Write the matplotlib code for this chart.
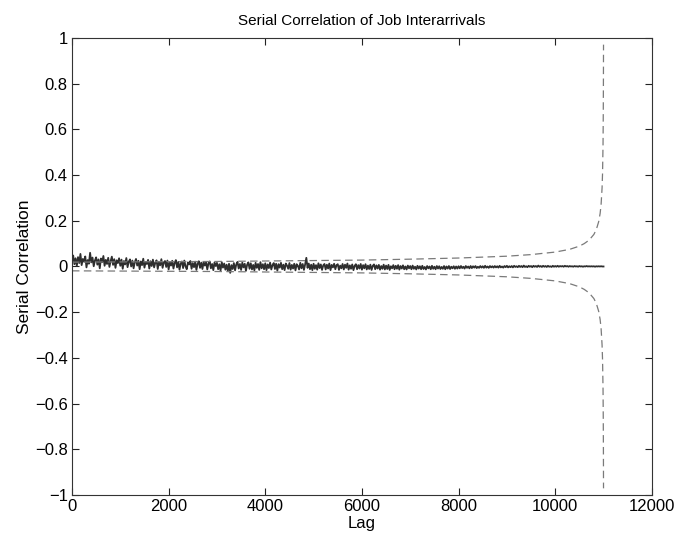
import numpy as np
import matplotlib
matplotlib.use('Agg')
from matplotlib import pyplot as plt

plt.rcParams['font.family'] = ['Liberation Sans', 'DejaVu Sans']

# lag grid of the sampled correlation (every 25 lags)
lags = np.arange(0, 11001, 25)

# serial correlation, rows of 10 (250 lags each)
serial_corr = [
    0.030, 0.048, 0.010, 0.036, 0.002, 0.041, 0.015, 0.055, 0.006, 0.033,
    0.021, 0.044, -0.004, 0.028, 0.012, 0.060, 0.018, 0.039, 0.001, 0.026,
    0.040, 0.008, 0.031, -0.008, 0.035, 0.019, 0.046, 0.003, 0.029, 0.011,
    0.038, -0.002, 0.024, 0.043, 0.007, 0.032, -0.006, 0.027, 0.015, 0.036,
    0.003, 0.030, -0.010, 0.024, 0.009, 0.037, -0.003, 0.021, 0.031, 0.000,
    0.026, -0.008, 0.019, 0.033, 0.004, 0.025, -0.012, 0.022, 0.006, 0.034,
    -0.005, 0.020, 0.011, 0.029, -0.009, 0.023, 0.002, 0.030, -0.004, 0.017,
    0.027, -0.011, 0.021, 0.005, 0.032, -0.006, 0.018, 0.024, -0.002, 0.026,
    -0.013, 0.019, 0.004, 0.025, -0.009, 0.016, 0.028, -0.004, 0.020, -0.014,
    0.013, 0.022, -0.007, 0.026, 0.001, -0.012, 0.018, 0.009, 0.024, -0.010,
    0.015, -0.003, 0.021, -0.015, 0.012, 0.023, -0.006, 0.017, -0.011, 0.020,
    0.004, 0.019, -0.013, 0.014, 0.022, -0.008, 0.011, -0.016, 0.018, 0.002,
    0.016, -0.012, 0.010, -0.018, 0.019, -0.005, 0.013, -0.014, 0.008, -0.020,
    0.012, -0.028, 0.006, -0.011, 0.015, -0.017, 0.009, 0.020, -0.009, 0.011,
    -0.015, 0.017, -0.004, 0.012, -0.019, 0.008, 0.018, -0.010, 0.014, -0.013,
    0.007, -0.017, 0.016, -0.006, 0.011, -0.015, 0.019, -0.008, 0.010, -0.012,
    0.014, -0.016, 0.009, -0.007, 0.017, -0.013, 0.006, 0.015, -0.011, 0.012,
    -0.018, 0.010, -0.005, 0.016, -0.012, 0.008, -0.016, 0.013, 0.004, -0.010,
    0.015, -0.014, 0.007, -0.009, 0.012, -0.017, 0.010, 0.003, -0.013, 0.016,
    -0.008, 0.011, -0.015, 0.009, 0.038, -0.006, 0.013, -0.012, 0.008, -0.016,
    0.012, -0.010, 0.006, -0.014, 0.014, -0.007, 0.009, -0.015, 0.005, 0.011,
    -0.013, 0.008, -0.009, 0.013, -0.016, 0.007, -0.004, 0.012, -0.012, 0.006,
    0.010, -0.015, 0.004, -0.008, 0.011, -0.013, 0.008, -0.006, 0.013, -0.014,
    0.005, -0.010, 0.009, -0.016, 0.003, 0.010, -0.012, 0.006, -0.009, 0.011,
    -0.014, 0.006, -0.008, 0.010, -0.013, 0.004, -0.011, 0.008, -0.015, 0.003,
    0.009, -0.012, 0.005, -0.009, 0.007, -0.014, 0.002, -0.010, 0.008, -0.013,
    0.004, -0.011, 0.007, -0.015, 0.001, -0.008, 0.006, -0.012, 0.003, -0.010,
    0.006, -0.014, 0.002, -0.009, 0.005, -0.012, 0.000, -0.013, 0.004, -0.008,
    0.002, -0.012, 0.004, -0.010, -0.001, -0.013, 0.003, -0.009, 0.001, -0.012,
    0.003, -0.011, -0.002, -0.013, 0.002, -0.008, 0.000, -0.012, 0.003, -0.010,
    -0.001, -0.012, 0.002, -0.009, 0.001, -0.011, -0.002, -0.010, 0.002, -0.012,
    0.000, -0.009, 0.002, -0.011, -0.001, -0.008, 0.001, -0.010, 0.000, -0.009,
    0.001, -0.008, 0.002, -0.007, -0.001, -0.009, 0.002, -0.006, 0.000, -0.008,
    0.002, -0.007, 0.001, -0.005, 0.002, -0.007, -0.001, -0.006, 0.002, -0.005,
    0.001, -0.006, 0.003, -0.005, 0.000, -0.006, 0.002, -0.004, 0.001, -0.005,
    0.002, -0.004, 0.001, -0.005, 0.003, -0.004, 0.000, -0.005, 0.002, -0.003,
    0.003, -0.004, 0.001, -0.003, 0.002, -0.004, 0.003, -0.002, 0.001, -0.003,
    0.003, -0.002, 0.002, -0.003, 0.004, -0.002, 0.001, -0.003, 0.003, -0.001,
    0.002, -0.003, 0.003, -0.001, 0.002, -0.002, 0.004, -0.001, 0.002, -0.002,
    0.003, -0.001, 0.002, -0.002, 0.003, -0.001, 0.001, -0.002, 0.003, -0.001,
    0.002, -0.001, 0.003, -0.001, 0.002, 0.000, 0.002, -0.001, 0.003, 0.000,
    0.002, -0.001, 0.002, 0.000, 0.001, -0.001, 0.002, 0.000, 0.001, -0.001,
    0.002, 0.000, 0.001, -0.001, 0.001, 0.000, 0.002, 0.000, 0.001, 0.000,
    0.001, 0.000, 0.001, -0.001, 0.001, 0.000, 0.001, 0.000, 0.001, 0.000,
    0.000,
]

# confidence bound (upper half, lower is the mirror)
bound_lags = [0, 1000, 2000, 3000, 4000, 5000, 6000, 7000, 8000, 9000,
              9500, 10000, 10300, 10500, 10600, 10700, 10800, 10850, 10900,
              10930, 10950, 10970, 10980, 10990, 10995, 10998, 11000]
bound_vals = [0.019, 0.020, 0.021, 0.022, 0.024, 0.026, 0.028, 0.032, 0.037,
              0.045, 0.052, 0.063, 0.075, 0.089, 0.100, 0.115, 0.140, 0.161,
              0.196, 0.232, 0.272, 0.343, 0.408, 0.535, 0.667, 0.816, 0.97]

fig = plt.figure(figsize=(6.79, 5.40), dpi=100)
ax = fig.add_axes([0.106, 0.083, 0.854, 0.847])

ax.plot(lags, serial_corr, color='#2e2e2e', linewidth=1.3)
ax.plot(bound_lags, bound_vals, color='#7a7a7a', linewidth=0.9,
        linestyle=(0, (6, 3.5)))
ax.plot(bound_lags, [-v for v in bound_vals], color='#7a7a7a', linewidth=0.9,
        linestyle=(0, (6, 3.5)))

ax.set_xlim(0, 12000)
ax.set_ylim(-1, 1)
ax.set_xticks(range(0, 12001, 2000))
ax.set_yticks(np.linspace(-1, 1, 11))
ax.set_yticklabels(['\u22121', '\u22120.8', '\u22120.6', '\u22120.4', '\u22120.2',
                    '0', '0.2', '0.4', '0.6', '0.8', '1'])
ax.tick_params(direction='in', length=5, width=0.8, top=True, right=True,
               labelsize=12, colors='#222222', labelcolor='black', pad=3)
for s in ax.spines.values():
    s.set_linewidth(0.8)
    s.set_color('#333333')

ax.set_title('Serial Correlation of Job Interarrivals', fontsize=11, pad=9)
ax.set_xlabel('Lag', fontsize=12, labelpad=1)
ax.set_ylabel('Serial Correlation', fontsize=12.5, labelpad=2)

fig.savefig('out.png', dpi=100)
